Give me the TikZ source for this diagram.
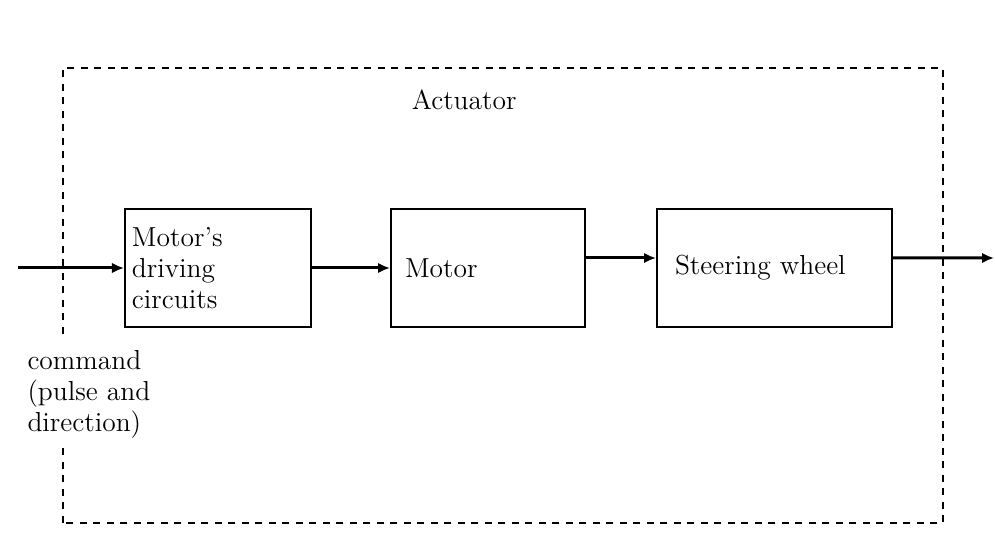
\documentclass[tikz,border=0pt]{standalone}
\usepackage{tikz}
\usetikzlibrary{positioning, calc, arrows.meta}

\begin{document}
\begin{tikzpicture}[x=0.4pt, y=0.4pt,
  every node/.style={font=\fontsize{11}{12.4}\selectfont},
  blk/.style={draw, line width=0.8pt, minimum height=47.2pt, align=left, inner ysep=0pt},
  sig/.style={line width=1.2pt, -{Latex[length=4.8pt, width=4.2pt]}},
  frame/.style={line width=1pt, dash pattern=on 2.8pt off 2.6pt}]
  \useasboundingbox (0,0) rectangle (995,533);
  \def\ya{265}
  % actuator frame
  \draw[frame] (63,10) rectangle (943,465);
  \node[anchor=west] (act) at (403,433) {Actuator};
  % blocks
  \node[blk, text width=68.8pt, inner xsep=2.8pt] (drv) at (218,\ya) {Motor's\\driving\\circuits};
  \node[blk, text width=66.4pt, inner xsep=5.6pt] (mot) at (488,\ya) {Motor};
  \node[blk, text width=79.6pt, inner xsep=7.2pt] (whl) at (774.5,\ya) {Steering wheel\\[4pt]};
  \coordinate (in) at (18,\ya);
  \coordinate (out) at (994,275);
  % command label covers the frame
  \node[fill=white, anchor=north west, align=left, inner xsep=2pt, inner ysep=4pt] (cmd)
        at (22,193) {command\\(pulse and\\direction)};
  % signal path
  \draw[sig] (in) -- (drv.west);
  \draw[sig] (drv.east) -- (mot.west);
  \draw[sig] ([yshift=4pt]mot.east) -- ([yshift=4pt]whl.west);
  \draw[sig] ([yshift=4pt]whl.east) -- (out);
\end{tikzpicture}
\end{document}
